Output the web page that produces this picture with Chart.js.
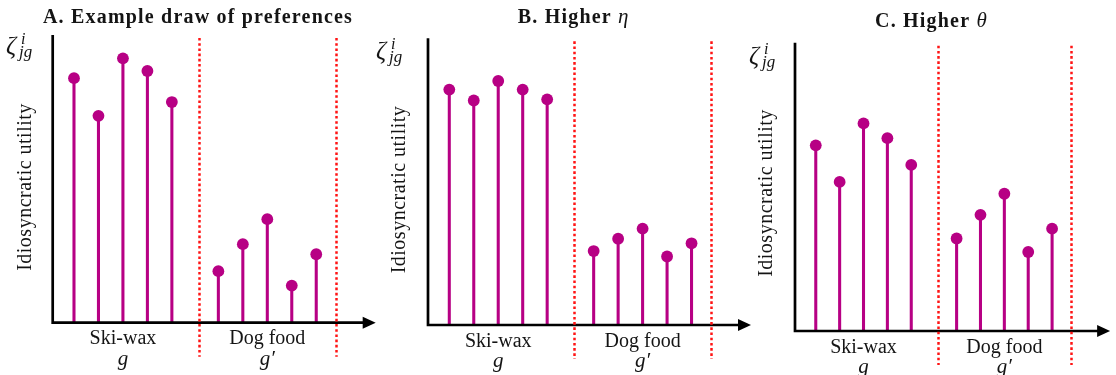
<!DOCTYPE html>
<html>
<head>
<meta charset="utf-8">
<script src="https://cdn.jsdelivr.net/npm/chart.js@4.4.1/dist/chart.umd.min.js"></script>
<style>
  html, body { margin: 0; padding: 0; background: #ffffff; }
  #wrap { position: relative; width: 1116px; height: 375px; overflow: hidden; background: #ffffff; }
  #wrap canvas { position: absolute; left: 0; top: 0; }
</style>
</head>
<body>
<div id="wrap">
  <canvas id="panelA" width="1116" height="375"></canvas>
  <canvas id="panelB" width="1116" height="375"></canvas>
  <canvas id="panelC" width="1116" height="375"></canvas>
</div>
<script>
// ---- data -------------------------------------------------------------
// slot of each product along the horizontal axis (5 ski-wax brands, 5 dog foods)
const itemSlots = [1, 2, 3, 4, 5, 6.9, 7.9, 8.9, 9.9, 10.9];
const groupNames = ['Ski-wax', 'Dog food'];
const groupSymbols = ['g', 'g\u2032'];
const groupCentres = [3, 8.9];
const dividerSlots = [6.1, 11.7];

// idiosyncratic utility draws, one value per product
const utilityExample = [8.50, 7.19, 9.19, 8.75, 7.67, 1.79, 2.73, 3.60, 1.29, 2.38];
const utilityHighEta = [8.21, 7.83, 8.51, 8.21, 7.87, 2.58, 3.01, 3.36, 2.39, 2.85];
const utilityHighTheta = [6.44, 5.17, 7.20, 6.69, 5.76, 3.21, 4.03, 4.76, 2.74, 3.55];

const yRange = [0, 10];
const xRange = [0.13, 13.33];

// ---- styling ----------------------------------------------------------
const SERIF = '"Liberation Serif", "Times New Roman", serif';
const INK = '#141414';
const STEM = 'rgb(183,0,132)';
const DIVIDER = '#ff1414';

function drawRuns(ctx, runs, cx, baseline, spacing) {
  ctx.save();
  ctx.letterSpacing = spacing || '0px';
  ctx.textAlign = 'left';
  ctx.textBaseline = 'alphabetic';
  let total = 0;
  const widths = runs.map(r => {
    ctx.font = r.font;
    const w = ctx.measureText(r.text).width;
    total += w;
    return w;
  });
  let x = cx - total / 2;
  runs.forEach((r, i) => {
    ctx.font = r.font;
    ctx.fillText(r.text, x, baseline);
    x += widths[i];
  });
  ctx.restore();
}

// axes with arrow, dotted group dividers and all annotation text
const stemDecor = {
  id: 'stemDecor',
  afterDatasetsDraw(chart, args, opts) {
    const { ctx, chartArea: a } = chart;
    const xs = chart.scales.x, ys = chart.scales.y;
    const y0 = ys.getPixelForValue(0);
    const x0 = a.left;
    const tip = xs.getPixelForValue(xs.max);
    ctx.save();

    // axes
    ctx.strokeStyle = '#000';
    ctx.lineWidth = 2.7;
    ctx.beginPath();
    ctx.moveTo(x0, a.top);
    ctx.lineTo(x0, y0 + 1.35);
    ctx.moveTo(x0 - 1.35, y0);
    ctx.lineTo(tip - 10, y0);
    ctx.stroke();
    ctx.fillStyle = '#000';
    ctx.beginPath();
    ctx.moveTo(tip, y0);
    ctx.lineTo(tip - 13, y0 - 6);
    ctx.lineTo(tip - 13, y0 + 6);
    ctx.closePath();
    ctx.fill();

    // dotted dividers between product groups
    ctx.strokeStyle = DIVIDER;
    ctx.lineWidth = 2.5;
    ctx.setLineDash([2.6, 2.6]);
    dividerSlots.forEach(v => {
      const px = Math.round(xs.getPixelForValue(v)) + 0.5;
      ctx.beginPath();
      ctx.moveTo(px, a.top + 3);
      ctx.lineTo(px, y0 + 34);
      ctx.stroke();
    });
    ctx.setLineDash([]);

    // group names and symbols
    ctx.fillStyle = INK;
    groupNames.forEach((name, i) => {
      const cx = xs.getPixelForValue(groupCentres[i]);
      drawRuns(ctx, [{ text: name, font: '20px ' + SERIF }], cx, y0 + 21.5);
      drawRuns(ctx, [{ text: groupSymbols[i], font: 'italic 21px ' + SERIF }], cx, y0 + 42);
    });

    // panel title
    drawRuns(ctx, opts.title, opts.titleX, opts.titleY, '1.2px');

    // zeta^i_{jg}
    ctx.font = 'italic 25px ' + SERIF;
    ctx.fillText('\u03B6', opts.zetaX, opts.zetaY);
    ctx.font = 'italic 16px ' + SERIF;
    ctx.fillText('i', opts.zetaX + 15, opts.zetaY - 10);
    ctx.font = 'italic 17px ' + SERIF;
    ctx.fillText('jg', opts.zetaX + 13, opts.zetaY + 3);

    // vertical axis label
    ctx.save();
    ctx.translate(opts.labelX, opts.labelY);
    ctx.rotate(-Math.PI / 2);
    ctx.letterSpacing = '0.5px';
    ctx.font = '20px ' + SERIF;
    ctx.textAlign = 'center';
    ctx.textBaseline = 'middle';
    ctx.fillText('Idiosyncratic utility', 0, 0);
    ctx.restore();

    ctx.restore();
  }
};

function makePanel(id, values, frame, deco) {
  const points = itemSlots.map((s, i) => ({ x: s, y: values[i] }));
  return new Chart(document.getElementById(id), {
    type: 'scatter',
    data: {
      datasets: [
        {
          type: 'scatter',
          data: points,
          pointRadius: 5.9,
          pointHoverRadius: 5.9,
          pointBackgroundColor: STEM,
          pointBorderWidth: 0,
          order: 1,
          clip: false
        },
        {
          type: 'bar',
          data: points,
          backgroundColor: STEM,
          barThickness: 2.4,
          borderWidth: 0,
          order: 2,
          clip: false
        }
      ]
    },
    options: {
      responsive: false,
      animation: false,
      events: [],
      layout: {
        padding: {
          left: frame.axisX,
          top: frame.axisTop,
          right: 1116 - frame.axisX - 323,
          bottom: 375 - frame.axisY
        }
      },
      scales: {
        x: { type: 'linear', min: xRange[0], max: xRange[1], offset: false, display: false },
        y: { type: 'linear', min: yRange[0], max: yRange[1], display: false }
      },
      plugins: {
        legend: { display: false },
        tooltip: { enabled: false },
        title: { display: false },
        stemDecor: deco
      }
    },
    plugins: [stemDecor]
  });
}

const BOLD = 'bold 20px ' + SERIF;
const MATH = 'italic 21px ' + SERIF;

makePanel('panelA', utilityExample,
  { axisX: 52.7, axisTop: 35, axisY: 322.7 },
  {
    title: [{ text: 'A. Example draw of preferences', font: BOLD }],
    titleX: 198, titleY: 23,
    zetaX: 6, zetaY: 54,
    labelX: 26, labelY: 187
  });

makePanel('panelB', utilityHighEta,
  { axisX: 428, axisTop: 38.3, axisY: 325 },
  {
    title: [{ text: 'B. Higher ', font: BOLD }, { text: '\u03B7', font: MATH }],
    titleX: 573.7, titleY: 23,
    zetaX: 376, zetaY: 59,
    labelX: 400, labelY: 189.5
  });

makePanel('panelC', utilityHighTheta,
  { axisX: 795, axisTop: 42.7, axisY: 331 },
  {
    title: [{ text: 'C. Higher ', font: BOLD }, { text: '\u03B8', font: MATH }],
    titleX: 931.5, titleY: 27,
    zetaX: 749, zetaY: 64,
    labelX: 767, labelY: 193
  });
</script>
</body>
</html>
